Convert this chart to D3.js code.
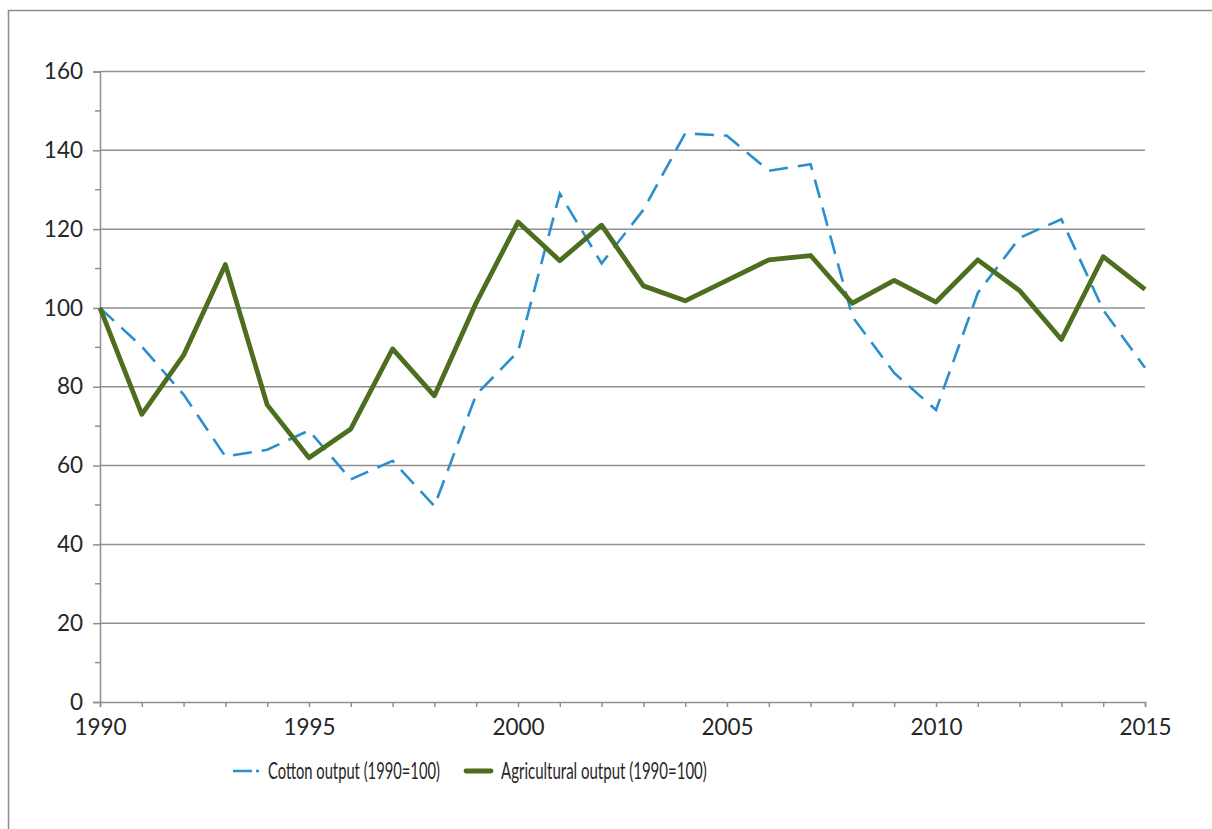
<!DOCTYPE html>
<html><head><meta charset="utf-8">
<script src="https://cdn.jsdelivr.net/npm/d3@7"></script>
<style>body{margin:0;background:#fff}svg{display:block}text{font-family:Lato,"Open Sans",sans-serif;fill:#262626}</style>
</head><body>
<svg id="c" width="1212" height="829"></svg>
<script>
const years = d3.range(1990, 2016);
const cotton = [100, 90.2, 78, 62.3, 64, 68.9, 56.5, 61.2, 49.7, 78, 88.9, 129, 111.3, 124.9, 144.3, 143.7, 134.8, 136.5, 97.8, 83.5, 74.1, 103.8, 117.8, 122.5, 99.5, 84.8];
const agri = [100, 73, 88, 111, 75.4, 62, 69.3, 89.6, 77.7, 101.3, 121.8, 112, 121, 105.6, 101.8, 107, 112.2, 113.3, 101.2, 107, 101.5, 112.2, 104.4, 92, 113, 104.7];
const yTicks = [0, 20, 40, 60, 80, 100, 120, 140, 160];
const xTickLabels = [1990, 1995, 2000, 2005, 2010, 2015];
const seriesNames = ["Cotton output (1990=100)", "Agricultural output (1990=100)"];

const svg = d3.select("#c");
svg.append("rect").attr("x",8.5).attr("y",10.5).attr("width",1240).attr("height",900)
  .attr("fill","none").attr("stroke","#8c8c8c").attr("stroke-width",1.5);

const x = d3.scaleLinear().domain([1990, 2015]).range([100, 1145]);
const y = d3.scaleLinear().domain([0, 160]).range([702, 71.5]);

// gridlines
svg.append("g").selectAll("line").data(yTicks.filter(d=>d>0)).join("line")
  .attr("x1",100).attr("x2",1145).attr("y1",d=>y(d)).attr("y2",d=>y(d))
  .attr("stroke","#8f8f8f").attr("stroke-width",1.5);

// y axis
const ya = svg.append("g").attr("transform","translate(100,0)")
  .call(d3.axisLeft(y).tickValues(yTicks).tickSize(7).tickPadding(10));
ya.select(".domain").attr("stroke","#8f8f8f").attr("stroke-width",1.5);
ya.selectAll(".tick line").attr("stroke","#8f8f8f").attr("stroke-width",1.5);
ya.selectAll(".tick text").style("font-size","22.5px").attr("fill","#262626");
// minor y ticks
svg.append("g").selectAll("line").data(d3.range(10,160,20)).join("line")
  .attr("x1",95).attr("x2",100).attr("y1",d=>y(d)).attr("y2",d=>y(d))
  .attr("stroke","#8f8f8f").attr("stroke-width",1.5);

// x axis
const xa = svg.append("g").attr("transform","translate(0,702)")
  .call(d3.axisBottom(x).tickValues(years).tickSize(5).tickPadding(12)
    .tickFormat(d=> xTickLabels.includes(d) ? String(d) : ""));
xa.select(".domain").attr("stroke","#8f8f8f").attr("stroke-width",1.5);
xa.selectAll(".tick line").attr("stroke","#8f8f8f").attr("stroke-width",1.5);
xa.selectAll(".tick text").style("font-size","22.5px").attr("fill","#262626");

const line = d3.line().x((d,i)=>x(years[i])).y(d=>y(d));
svg.append("path").datum(cotton).attr("d",line).attr("fill","none")
  .attr("stroke","#2a8fcc").attr("stroke-width",2.6).attr("stroke-dasharray","19,10");
svg.append("path").datum(agri).attr("d",line).attr("fill","none")
  .attr("stroke","#4d6d1f").attr("stroke-width",4.8).attr("stroke-linejoin","round");

// legend
const lg = svg.append("g");
function legendText(px, target, label){
  const t = lg.append("text").attr("x",0).attr("y",0).style("font-size","24px").text(label);
  const w = t.node().getComputedTextLength();
  t.attr("transform",`translate(${px},779) scale(${target/w},1)`);
}
lg.append("line").attr("x1",233).attr("x2",259).attr("y1",771).attr("y2",771)
  .attr("stroke","#2a8fcc").attr("stroke-width",2.6).attr("stroke-dasharray","19,4,3,10");
legendText(268, 172, seriesNames[0]);
lg.append("line").attr("x1",466).attr("x2",491).attr("y1",771).attr("y2",771)
  .attr("stroke","#4d6d1f").attr("stroke-width",4.8).attr("stroke-linecap","round");
legendText(501, 206, seriesNames[1]);
</script>
</body></html>
